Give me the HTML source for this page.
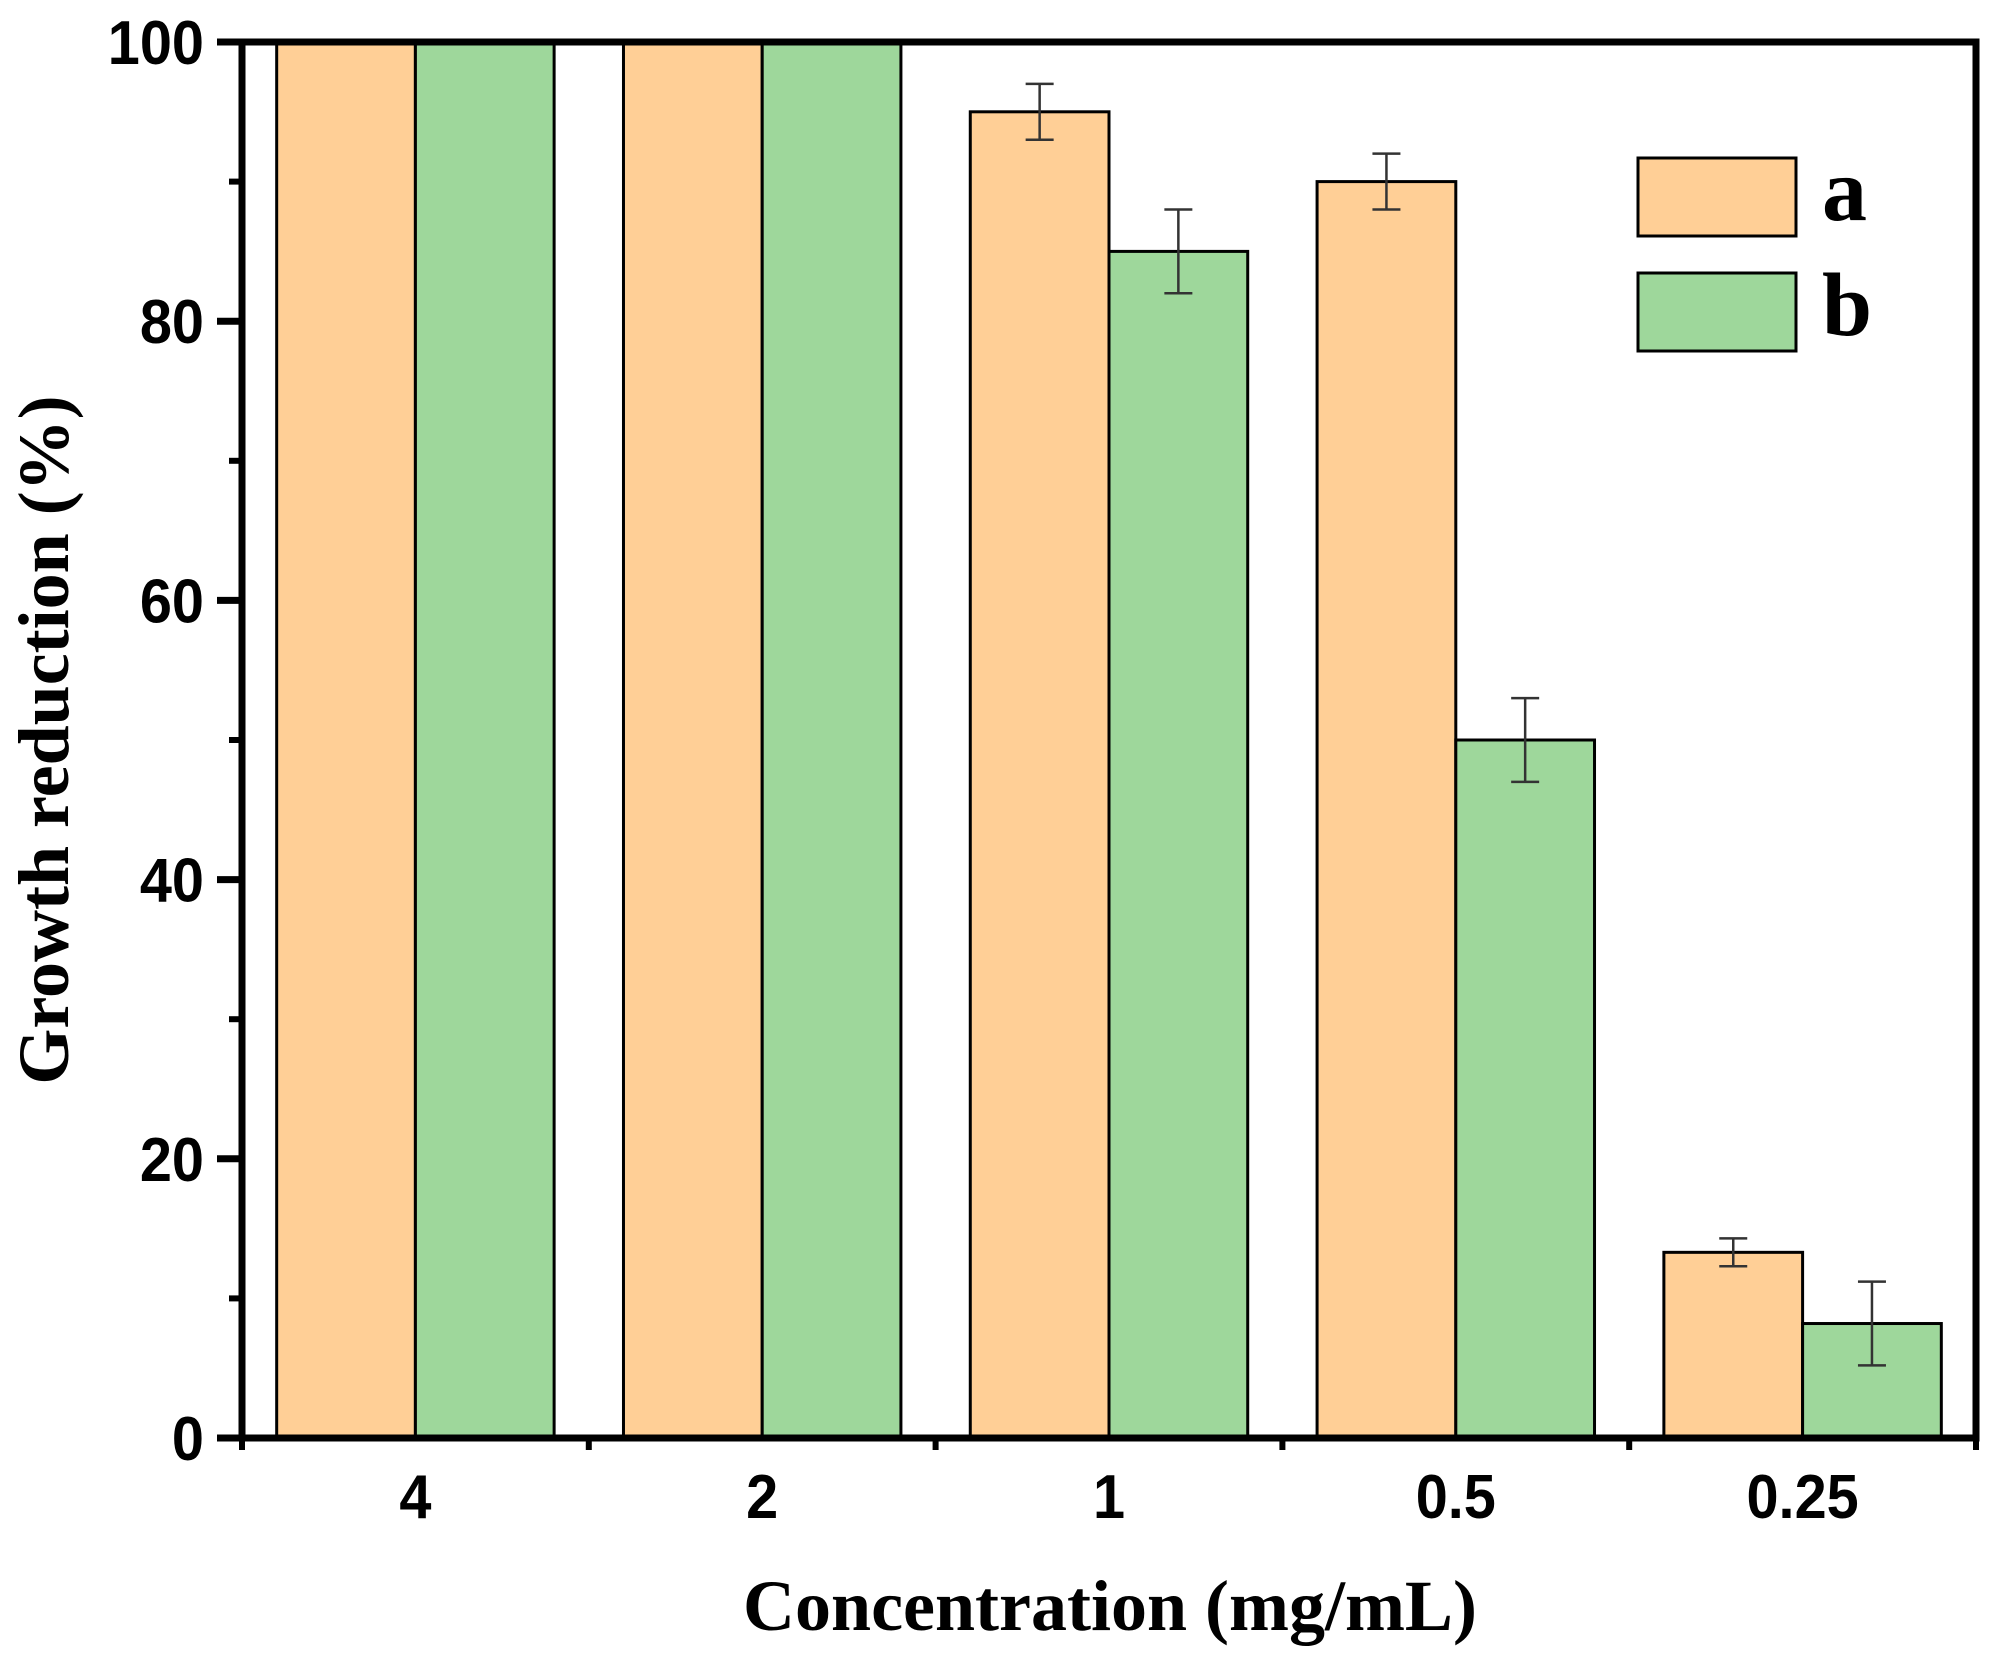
<!DOCTYPE html>
<html><head><meta charset="utf-8"><style>
html,body{margin:0;padding:0;background:#fff;}
svg{display:block;}
</style></head><body>
<svg id="chart" width="2000" height="1656" viewBox="0 0 2000 1656" xmlns="http://www.w3.org/2000/svg"></svg>
<script>
const categories = ["4","2","1","0.5","0.25"];
const seriesA = [100,100,95,90,13.3];
const seriesB = [100,100,85,50,8.2];
const errA = [0,0,2,2,1];
const errB = [0,0,3,3,3];
const yTicks = [0,20,40,60,80,100];
const yMinor = [10,30,50,70,90];

const NS="http://www.w3.org/2000/svg";
const svg=document.getElementById('chart');
const L=242,R=1976,T=42,B=1438;
const cw=(R-L)/categories.length;
const bw=cw*0.4;
function y(v){return B-(v/100)*(B-T);}
function x(i){return L+cw*(i+0.5);}
function mk(tag,attrs,parent){const e=document.createElementNS(NS,tag);for(const k in attrs)e.setAttribute(k,attrs[k]);(parent||svg).appendChild(e);return e;}

const bars=mk('g',{});


categories.forEach((c,i)=>{
  const ra=mk('rect',{x:x(i)-bw,y:y(seriesA[i]),width:bw,height:B-y(seriesA[i]),fill:'#FFCF96',stroke:'#000','stroke-width':3},bars);
  
  
  const rb=mk('rect',{x:x(i),y:y(seriesB[i]),width:bw,height:B-y(seriesB[i]),fill:'#9ED79B',stroke:'#000','stroke-width':3},bars);
  
  
  [[seriesA,errA,x(i)-bw/2,'a'],[seriesB,errB,x(i)+bw/2,'b']].forEach(([s,e,cx,n])=>{
    if(e[i]<=0)return;
    const g=mk('g',{stroke:'#333','stroke-width':2.5},bars);
    
    
    mk('line',{x1:cx,x2:cx,y1:y(s[i]+e[i]),y2:y(s[i]-e[i])},g);
    mk('line',{x1:cx-14,x2:cx+14,y1:y(s[i]+e[i]),y2:y(s[i]+e[i])},g);
    mk('line',{x1:cx-14,x2:cx+14,y1:y(s[i]-e[i]),y2:y(s[i]-e[i])},g);
  });
});

const frame=mk('rect',{x:L,y:T,width:R-L,height:B-T,fill:'none',stroke:'#000','stroke-width':7});



const yax=mk('g',{});


yTicks.forEach(v=>{
  mk('line',{x1:L-25,x2:L,y1:y(v),y2:y(v),stroke:'#000','stroke-width':7},yax);
  const t=mk('text',{x:0,y:0,'text-anchor':'end','font-family':'Liberation Sans, sans-serif','font-weight':'bold','font-size':62,transform:'translate('+(L-38)+','+(y(v)+22)+') scale(0.93,1)'},yax);
  t.textContent=v;
  
  
});
yMinor.forEach(v=>{mk('line',{x1:L-13,x2:L,y1:y(v),y2:y(v),stroke:'#000','stroke-width':6},yax);});

const xax=mk('g',{});


for(let i=0;i<=categories.length;i++){mk('line',{x1:L+cw*i,x2:L+cw*i,y1:B,y2:B+12,stroke:'#000','stroke-width':6},xax);}
categories.forEach((c,i)=>{
  const t=mk('text',{x:0,y:0,'text-anchor':'middle','font-family':'Liberation Sans, sans-serif','font-weight':'bold','font-size':62,transform:'translate('+x(i)+',1518) scale(0.93,1)'},xax);
  t.textContent=c;
  
  
});

const xt=mk('text',{x:1110,y:1630,'text-anchor':'middle','font-family':'Liberation Serif, serif','font-weight':'bold','font-size':72});
xt.textContent='Concentration (mg/mL)';


const yt=mk('text',{x:0,y:0,'text-anchor':'middle','font-family':'Liberation Serif, serif','font-weight':'bold','font-size':72,transform:'translate(68,740) rotate(-90)'});
yt.textContent='Growth reduction (%)';



const leg=mk('g',{});


[['a','#FFCF96',158],['b','#9ED79B',273]].forEach(([n,c,yy])=>{
  const r=mk('rect',{x:1638,y:yy,width:158,height:78,fill:c,stroke:'#000','stroke-width':3},leg);
  
  
  const t=mk('text',{x:1822,y:yy+62,'font-family':'Liberation Serif, serif','font-weight':'bold','font-size':90},leg);
  t.textContent=n;
  
  
});
</script>
</body></html>
